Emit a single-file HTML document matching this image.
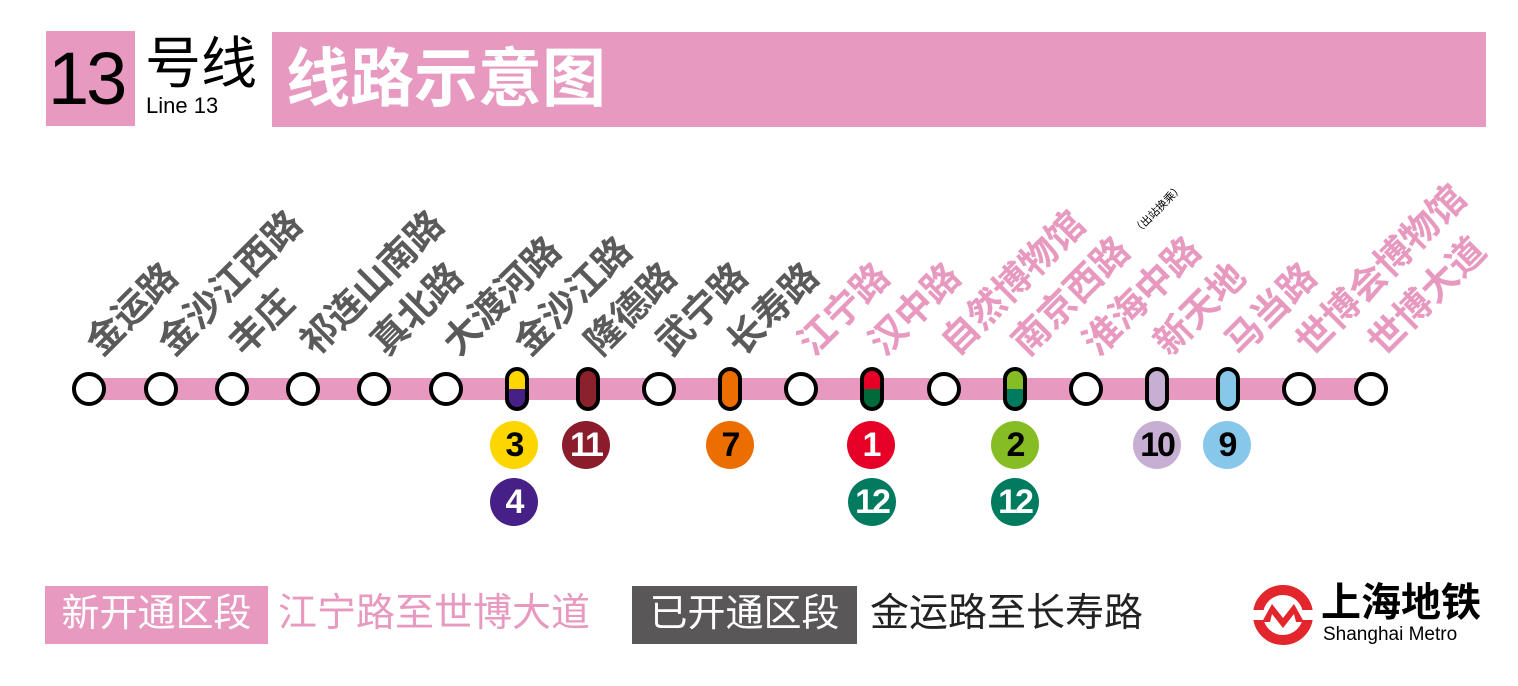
<!DOCTYPE html>
<html><head><meta charset="utf-8"><style>
body{margin:0;width:1518px;height:686px;background:#fff;position:relative;overflow:hidden;font-family:"Liberation Sans","Noto Sans CJK SC",sans-serif}
.a{position:absolute}
.lb{position:absolute;font-size:37px;font-weight:bold;white-space:nowrap;transform-origin:0 100%;transform:rotate(-45deg);line-height:40px;height:40px}
.g{color:#5a5a5a}.p{color:#e799c0}
.b{position:absolute;width:48px;height:48px;border-radius:50%;font-weight:bold;font-size:34px;text-align:center;line-height:48px;letter-spacing:-2px}
</style></head><body>
<div class="a" style="left:46px;top:31px;width:89px;height:95px;background:#e799c0"></div>
<div class="a" style="left:48px;top:36px;font-size:74px;line-height:86px;letter-spacing:-3px">13</div>
<div class="a" style="left:145px;top:32px;font-size:56px;line-height:64px">号线</div>
<div class="a" style="left:146px;top:92px;font-size:22px;line-height:28px">Line 13</div>
<div class="a" style="left:272px;top:32px;width:1214px;height:95px;background:#e799c0"></div>
<div class="a" style="left:286px;top:42px;font-size:64px;line-height:74px;color:#fff;font-weight:bold">线路示意图</div>

<svg class="a" style="left:0;top:0" width="1518" height="686">
<rect x="76" y="378" width="1310" height="22" fill="#e799c0"/>
<g fill="#fff" stroke="#000" stroke-width="4">
<circle cx="89" cy="389" r="15"/><circle cx="161" cy="389" r="15"/><circle cx="232" cy="389" r="15"/><circle cx="303" cy="389" r="15"/><circle cx="374" cy="389" r="15"/><circle cx="446" cy="389" r="15"/><circle cx="659" cy="389" r="15"/><circle cx="801" cy="389" r="15"/><circle cx="944" cy="389" r="15"/><circle cx="1086" cy="389" r="15"/><circle cx="1299" cy="389" r="15"/><circle cx="1371" cy="389" r="15"/>
</g>
<defs><clipPath id="pc"><rect x="-10" y="-20" width="20" height="40" rx="10"/></clipPath></defs>
<g transform="translate(517,389)"><g clip-path="url(#pc)"><rect x="-10" y="-20" width="20" height="20" fill="#fdd600"/><rect x="-10" y="0" width="20" height="20" fill="#462087"/></g><rect x="-10" y="-20" width="20" height="40" rx="10" fill="none" stroke="#000" stroke-width="4"/></g>
<g transform="translate(588,389)"><rect x="-10" y="-20" width="20" height="40" rx="10" fill="#8a212c" stroke="#000" stroke-width="4"/></g>
<g transform="translate(730,389)"><rect x="-10" y="-20" width="20" height="40" rx="10" fill="#ec6d00" stroke="#000" stroke-width="4"/></g>
<g transform="translate(872,389)"><g clip-path="url(#pc)"><rect x="-10" y="-20" width="20" height="20" fill="#e60027"/><rect x="-10" y="0" width="20" height="20" fill="#006a3a"/></g><rect x="-10" y="-20" width="20" height="40" rx="10" fill="none" stroke="#000" stroke-width="4"/></g>
<g transform="translate(1015,389)"><g clip-path="url(#pc)"><rect x="-10" y="-20" width="20" height="20" fill="#86bd23"/><rect x="-10" y="0" width="20" height="20" fill="#007b5f"/></g><rect x="-10" y="-20" width="20" height="40" rx="10" fill="none" stroke="#000" stroke-width="4"/></g>
<g transform="translate(1157,389)"><rect x="-10" y="-20" width="20" height="40" rx="10" fill="#c6afd2" stroke="#000" stroke-width="4"/></g>
<g transform="translate(1228,389)"><rect x="-10" y="-20" width="20" height="40" rx="10" fill="#86c7ea" stroke="#000" stroke-width="4"/></g>
<circle cx="1283" cy="615" r="25" fill="none" stroke="#e3262b" stroke-width="10"/>
<rect x="1250" y="610" width="66" height="10" fill="#fff"/>
<path d="M1262 622 L1272 604 L1283 618 L1294 604 L1304 622 L1296 622 L1294 614 L1283 628 L1272 614 L1270 622 Z" fill="#e3262b"/>
</svg>

<div class="b" style="left:490px;top:421px;background:#fdd600;color:#000">3</div>
<div class="b" style="left:490px;top:478px;background:#462087;color:#fff">4</div>
<div class="b" style="left:562px;top:421px;background:#8a1c2c;color:#fff">11</div>
<div class="b" style="left:706px;top:421px;background:#ec6d00;color:#000">7</div>
<div class="b" style="left:847px;top:421px;background:#e60027;color:#fff">1</div>
<div class="b" style="left:848px;top:478px;background:#007b5f;color:#fff">12</div>
<div class="b" style="left:991px;top:421px;background:#86bd23;color:#000">2</div>
<div class="b" style="left:991px;top:478px;background:#007b5f;color:#fff">12</div>
<div class="b" style="left:1133px;top:421px;background:#c6afd2;color:#000">10</div>
<div class="b" style="left:1203px;top:421px;background:#86c7ea;color:#000">9</div>

<div class="lb g" style="left:107px;top:323px">金运路</div>
<div class="lb g" style="left:179px;top:323px">金沙江西路</div>
<div class="lb g" style="left:250px;top:323px">丰庄</div>
<div class="lb g" style="left:321px;top:323px">祁连山南路</div>
<div class="lb g" style="left:392px;top:323px">真北路</div>
<div class="lb g" style="left:464px;top:323px">大渡河路</div>
<div class="lb g" style="left:535px;top:323px">金沙江路</div>
<div class="lb g" style="left:606px;top:323px">隆德路</div>
<div class="lb g" style="left:677px;top:323px">武宁路</div>
<div class="lb g" style="left:748px;top:323px">长寿路</div>
<div class="lb p" style="left:819px;top:323px">江宁路</div>
<div class="lb p" style="left:890px;top:323px">汉中路</div>
<div class="lb p" style="left:962px;top:323px">自然博物馆</div>
<div class="lb p" style="left:1033px;top:323px">南京西路</div>
<div class="a" style="left:1140px;top:222px;font-size:11px;transform:rotate(-45deg);transform-origin:0 100%;white-space:nowrap">（出站换乘）</div>
<div class="lb p" style="left:1104px;top:323px">淮海中路</div>
<div class="lb p" style="left:1175px;top:323px">新天地</div>
<div class="lb p" style="left:1246px;top:323px">马当路</div>
<div class="lb p" style="left:1317px;top:323px">世博会博物馆</div>
<div class="lb p" style="left:1389px;top:323px">世博大道</div>

<div class="a" style="left:45px;top:586px;width:223px;height:58px;background:#e799c0;color:#fff;font-size:38px;line-height:56px;text-align:center">新开通区段</div>
<div class="a" style="left:278px;top:586px;font-size:39px;line-height:56px;color:#e799c0">江宁路至世博大道</div>
<div class="a" style="left:632px;top:586px;width:225px;height:58px;background:#595757;color:#fff;font-size:38px;line-height:56px;text-align:center">已开通区段</div>
<div class="a" style="left:870px;top:586px;font-size:39px;line-height:56px;color:#222">金运路至长寿路</div>
<div class="a" style="left:1321px;top:580px;font-size:40px;line-height:46px;font-weight:bold">上海地铁</div>
<div class="a" style="left:1323px;top:624px;font-size:19px;line-height:22px">Shanghai Metro</div>
</body></html>
